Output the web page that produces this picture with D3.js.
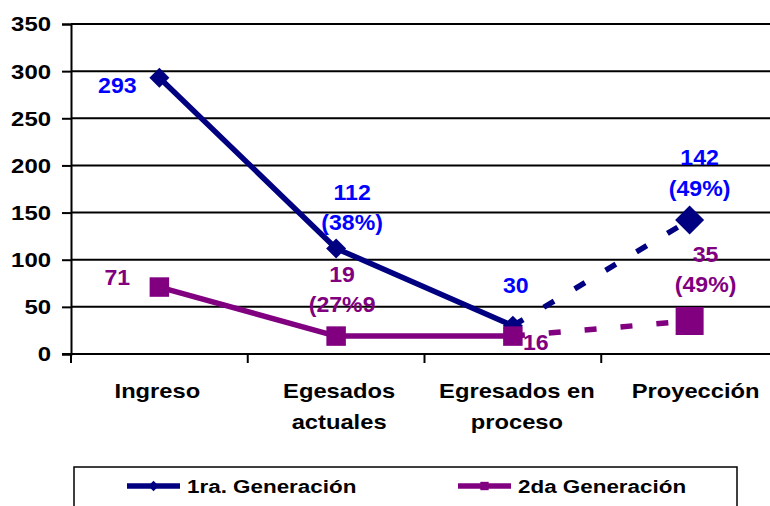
<!DOCTYPE html>
<html>
<head>
<meta charset="utf-8">
<script src="https://cdn.jsdelivr.net/npm/d3@7"></script>
<style>
  body { margin: 0; background: #fff; }
  text { font-family: "Liberation Sans", Arial, sans-serif; font-weight: bold; }
</style>
</head>
<body>
<div id="chart"></div>
<script>
// Data
const categories = ["Ingreso", "Egesados actuales", "Egresados en proceso", "Proyección"];
const categoryLines = [["Ingreso"], ["Egesados", "actuales"], ["Egresados en", "proceso"], ["Proyección"]];
const gen1 = [293, 112, 30, 142];
const gen2 = [71, 19, 19, 35];
const gen1Labels = [["293"], ["112", "(38%)"], ["30"], ["142", "(49%)"]];
const gen2Labels = [["71"], ["19", "(27%9"], ["16"], ["35", "(49%)"]];
const yTicks = [0, 50, 100, 150, 200, 250, 300, 350];
const seriesNames = ["1ra. Generación", "2da Generación"];

// Layout
const W = 770, H = 506;
const plotLeft = 71, plotRight = 778, plotTop = 24, plotBottom = 354;

const svg = d3.select("#chart").append("svg")
  .attr("width", W).attr("height", H);

const x = d3.scaleBand().domain(categories).range([plotLeft, plotRight]).paddingInner(0).paddingOuter(0);
const cx = (i) => x(categories[i]) + x.bandwidth() / 2;
const y = d3.scaleLinear().domain([0, 350]).range([plotBottom, plotTop]);

// horizontally widened text, like the original rendering
function stretch(sel, k) {
  sel.each(function () {
    const t = d3.select(this);
    const tx = +t.attr("x") || 0, ty = +t.attr("y") || 0;
    t.attr("x", 0).attr("y", 0)
      .attr("transform", `translate(${tx},${ty}) scale(${k},1)`);
  });
}

// Gridlines
svg.append("g").selectAll("line")
  .data(yTicks.filter(d => d > 0))
  .join("line")
  .attr("x1", plotLeft).attr("x2", plotRight)
  .attr("y1", d => y(d)).attr("y2", d => y(d))
  .attr("stroke", "#000").attr("stroke-width", 2);

// Y axis
const yAxis = svg.append("g")
  .attr("transform", `translate(${plotLeft},0)`)
  .call(d3.axisLeft(y).tickValues(yTicks).tickSize(9).tickPadding(11));
yAxis.select(".domain").attr("stroke", "#000").attr("stroke-width", 2);
yAxis.selectAll(".tick line").attr("stroke-width", 2);
yAxis.selectAll(".tick text")
  .style("font-size", "21px").style("font-family", "Liberation Sans, Arial")
  .style("font-weight", "bold")
  .attr("fill", "#000").attr("dy", "0.33em")
  .call(stretch, 1.14);

// X axis with ticks at category boundaries
const xBounds = categories.map(c => x(c)).concat([plotRight]);
svg.append("line")
  .attr("x1", plotLeft - 9).attr("x2", plotRight)
  .attr("y1", plotBottom).attr("y2", plotBottom)
  .attr("stroke", "#000").attr("stroke-width", 2);
svg.append("g").selectAll("line")
  .data(xBounds)
  .join("line")
  .attr("x1", d => d).attr("x2", d => d)
  .attr("y1", plotBottom).attr("y2", plotBottom + 9)
  .attr("stroke", "#000").attr("stroke-width", 2);

// Category labels
categoryLines.forEach((lines, i) => {
  lines.forEach((ln, j) => {
    svg.append("text")
      .attr("x", cx(i) + [-2, 3, 4, 6][i])
      .attr("y", 398 + j * 31)
      .attr("text-anchor", "middle")
      .style("font-size", "21px")
      .text(ln)
      .call(stretch, 1.13);
  });
});

// Series
const series = [
  { values: gen1, labels: gen1Labels, line: "#000080", label: "#0000FF", shape: "diamond",
    small: 200, big: 420,
    offsets: [[-42, [15]], [16, [-48, -18]], [3, [-33]], [10, [-55, -24]]] },
  { values: gen2, labels: gen2Labels, line: "#800080", label: "#800080", shape: "square",
    small: 380, big: 784,
    offsets: [[-42, [-2]], [6, [-54, -24]], [23, [14]], [16, [-59, -29]]] }
];

const line = d3.line().x(d => cx(d.i)).y(d => y(d.v));

series.forEach(s => {
  const pts = s.values.map((v, i) => ({ v, i }));
  svg.append("path").datum(pts.slice(0, 3))
    .attr("d", line).attr("fill", "none")
    .attr("stroke", s.line).attr("stroke-width", 5.5)
    .attr("stroke-linejoin", "round");
  svg.append("path").datum(pts.slice(2))
    .attr("d", line).attr("fill", "none")
    .attr("stroke", s.line).attr("stroke-width", 5.5)
    .attr("stroke-dasharray", "12,24");
});

series.forEach(s => {
  s.values.forEach((v, i) => {
    const size = i === 3 ? s.big : s.small;
    svg.append("path")
      .attr("d", d3.symbol(d3.symbolSquare, size)())
      .attr("transform", `translate(${cx(i)},${y(v)}) rotate(${s.shape === "diamond" ? 45 : 0})`)
      .attr("fill", s.line);
  });
});

// Data labels
series.forEach(s => {
  s.labels.forEach((lines, i) => {
    const [dx, dys] = s.offsets[i];
    lines.forEach((ln, j) => {
      svg.append("text")
        .attr("x", cx(i) + dx)
        .attr("y", y(s.values[i]) + dys[j])
        .attr("text-anchor", "middle")
        .attr("fill", s.label)
        .style("font-size", "22px")
        .text(ln)
        .call(stretch, 1.05);
    });
  });
});

// Legend
const legend = svg.append("g");
legend.append("rect")
  .attr("x", 74).attr("y", 467).attr("width", 663).attr("height", 60)
  .attr("fill", "#fff").attr("stroke", "#000").attr("stroke-width", 1.5);

const legendX = [127, 458];
series.forEach((s, i) => {
  const g = legend.append("g").attr("transform", `translate(${legendX[i]},486)`);
  g.append("line").attr("x1", 0).attr("x2", 53)
    .attr("stroke", s.line).attr("stroke-width", 5.5);
  g.append("path")
    .attr("d", d3.symbol(d3.symbolSquare, s.shape === "diamond" ? 55 : 70)())
    .attr("transform", `translate(26.5,0) rotate(${s.shape === "diamond" ? 45 : 0})`)
    .attr("fill", s.line);
  g.append("text")
    .attr("x", 60).attr("y", 7)
    .style("font-size", "19px")
    .text(seriesNames[i])
    .call(stretch, 1.18);
});
</script>
</body>
</html>
